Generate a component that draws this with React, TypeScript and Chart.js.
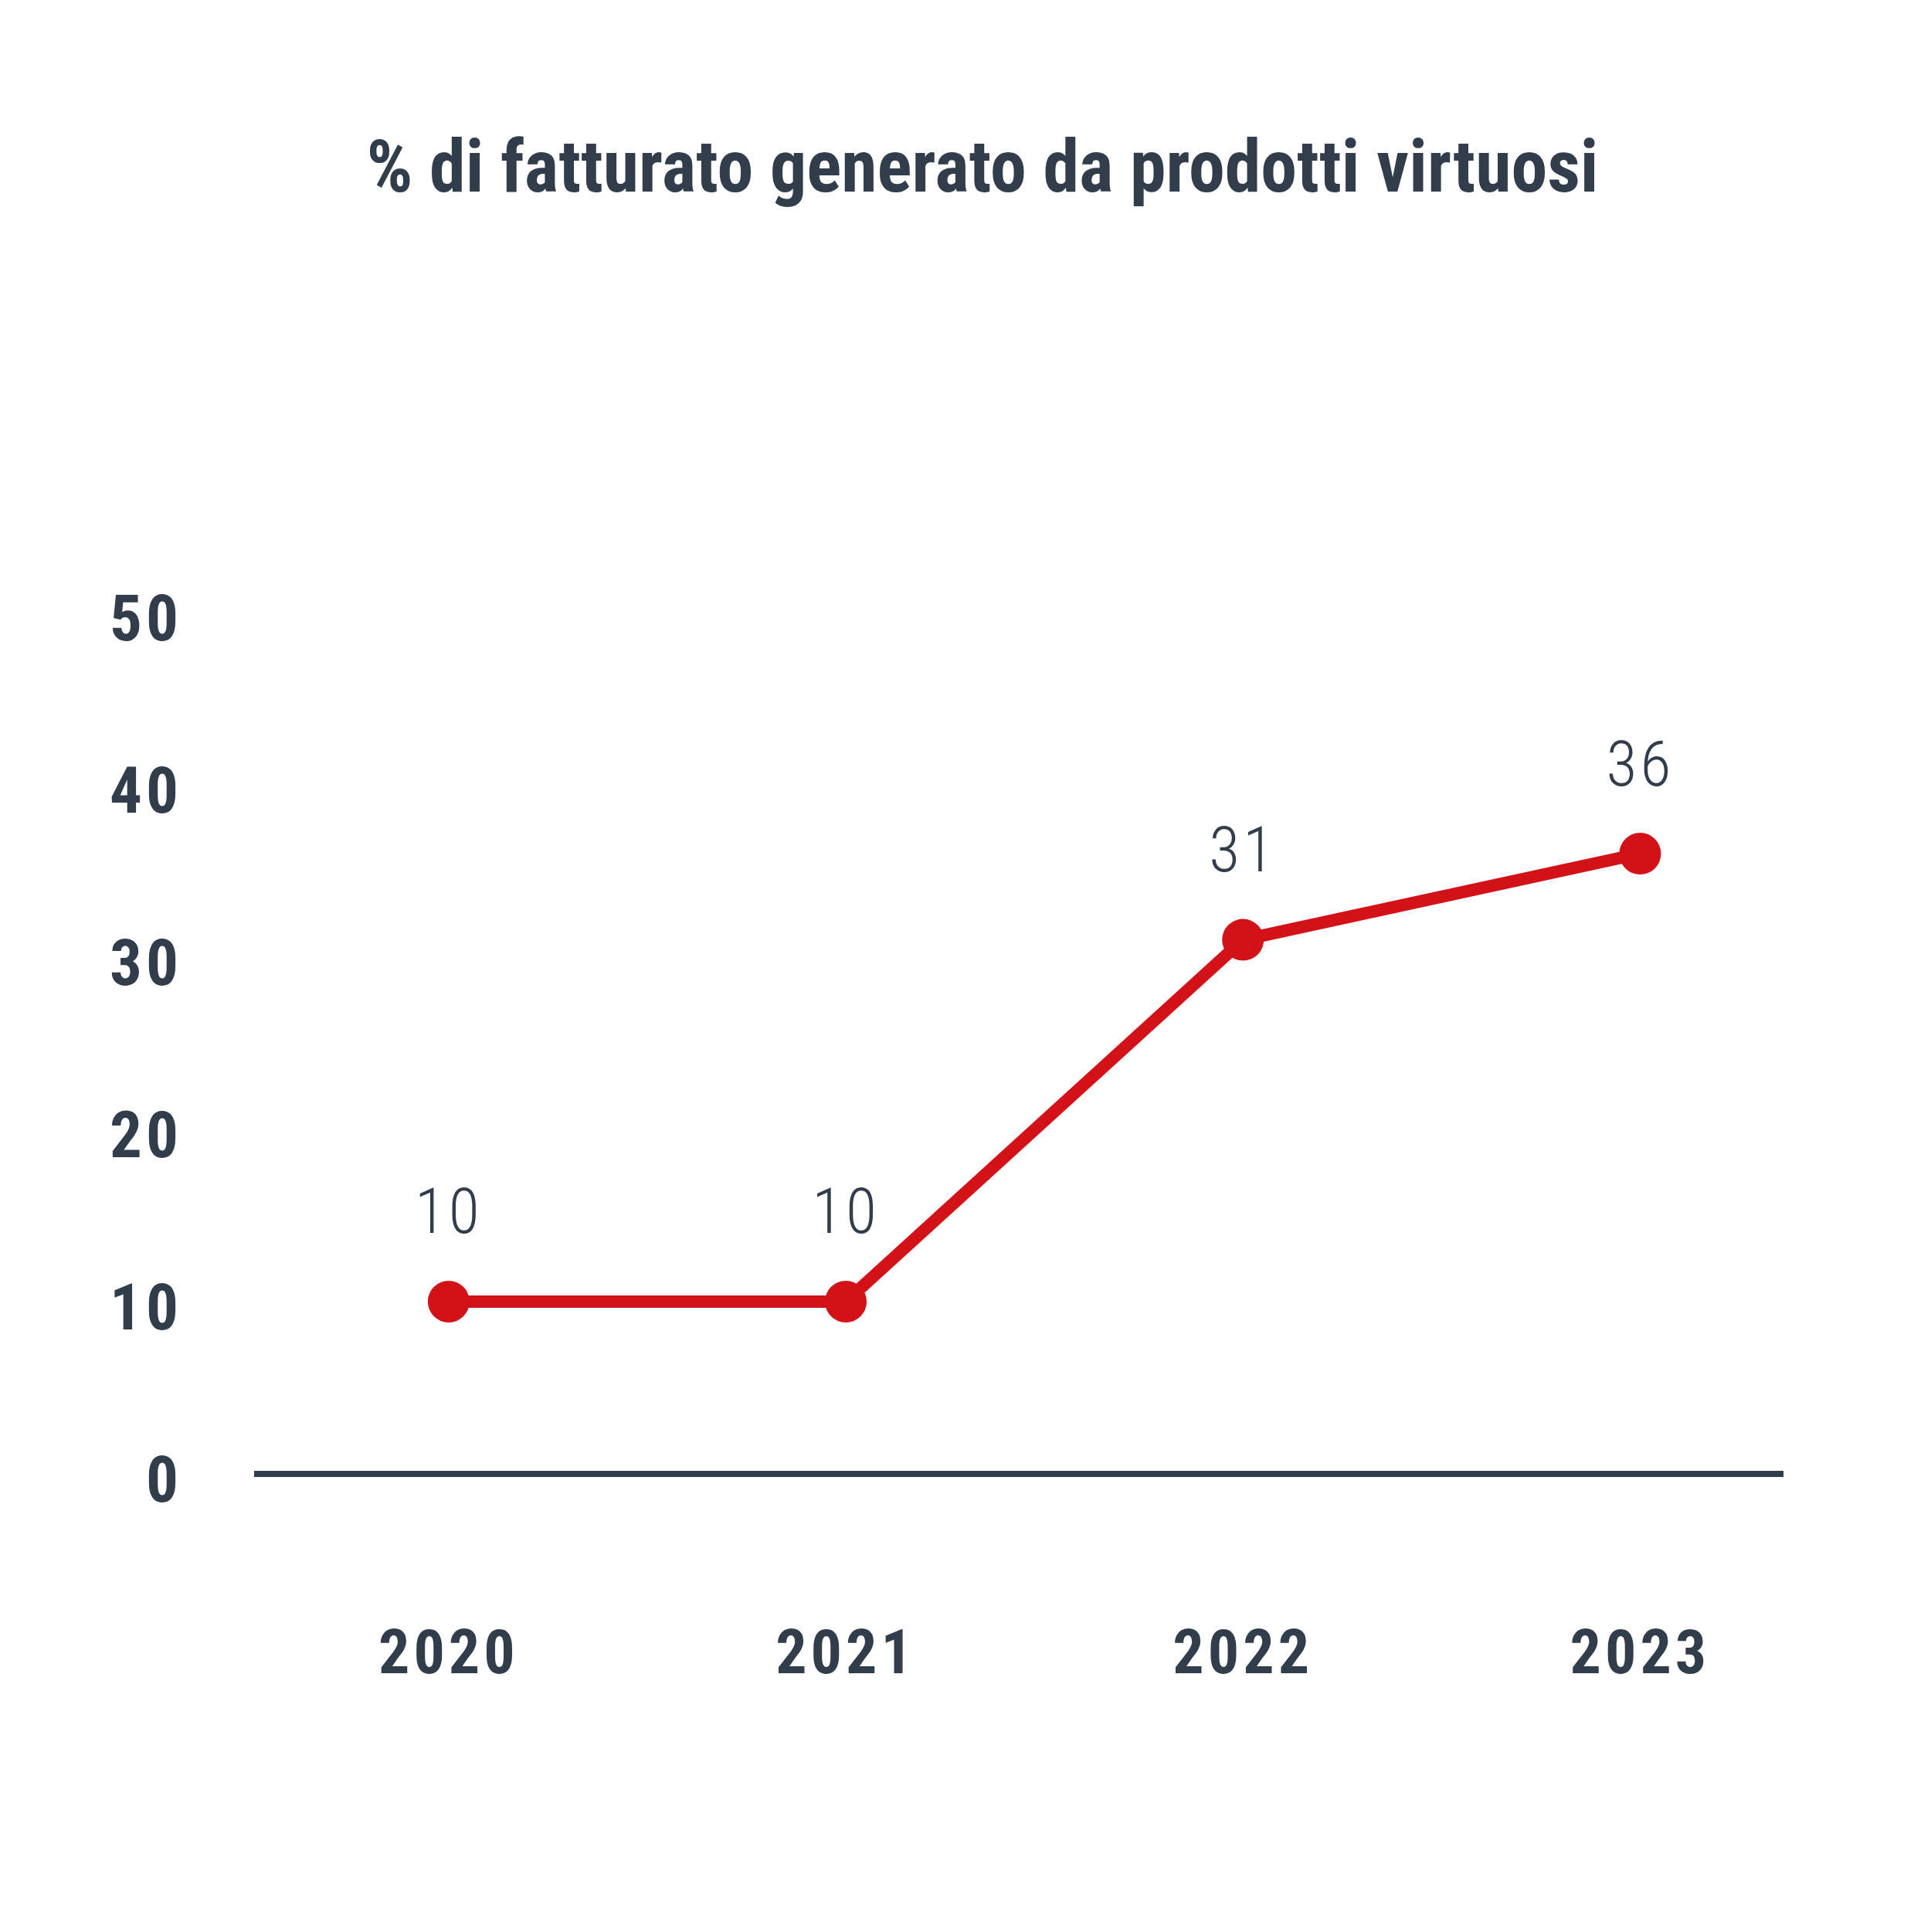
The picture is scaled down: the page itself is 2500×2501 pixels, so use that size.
import React, { useEffect, useRef } from "react";
import { Chart, registerables } from "chart.js";

Chart.register(...registerables);

// ---- data ----
const TITLE = "% di fatturato generato da prodotti virtuosi";
const YEARS = [2020, 2021, 2022, 2023];
const VALUES = [10, 10, 31, 36];
const Y_MIN = 0;
const Y_MAX = 50;
const Y_STEP = 10;
const X_MIN = 2019.518;
const X_MAX = 2023.359;

// ---- style ----
const TEXT = "#323d4b";
const RED = "#d31118";
const FONT = "'Roboto Condensed', Roboto, sans-serif";
const TICK_SPACING = 5;
const LABEL_SPACING = 4;

const dataLabels = {
  id: "dataLabels",
  afterDatasetsDraw(chart: any) {
    const ctx = chart.ctx as CanvasRenderingContext2D & { letterSpacing: string };
    const meta = chart.getDatasetMeta(0);
    ctx.save();
    ctx.font = `300 82px ${FONT}`;
    ctx.letterSpacing = `${LABEL_SPACING}px`;
    ctx.fillStyle = TEXT;
    ctx.textAlign = "center";
    ctx.textBaseline = "middle";
    meta.data.forEach((pt: any, i: number) => {
      ctx.fillText(String(VALUES[i]), pt.x + LABEL_SPACING / 2 - 2, pt.y - 109);
    });
    ctx.restore();
    // tick labels are drawn after datasets (ticks.z = 1): give them letter spacing
    ctx.letterSpacing = `${TICK_SPACING}px`;
  },
  afterDraw(chart: any) {
    (chart.ctx as any).letterSpacing = "0px";
  },
};

export default function App() {
  const ref = useRef<HTMLCanvasElement>(null);
  useEffect(() => {
    const canvas = ref.current!;
    const chart = new Chart(canvas, {
      type: "line",
      data: {
        datasets: [
          {
            data: YEARS.map((y, i) => ({ x: y, y: VALUES[i] })),
            yAxisID: "y",
            borderColor: RED,
            backgroundColor: RED,
            borderWidth: 16,
            pointRadius: 27,
            pointHoverRadius: 27,
            pointBackgroundColor: RED,
            pointBorderWidth: 0,
            borderJoinStyle: "round",
            tension: 0,
            clip: false as any,
          },
        ],
      },
      options: {
        responsive: false,
        maintainAspectRatio: false,
        devicePixelRatio: 1,
        animation: false,
        events: [],
        layout: { padding: { left: 100, right: 56, top: 0, bottom: 0 } },
        plugins: {
          legend: { display: false },
          tooltip: { enabled: false },
          title: {
            display: true,
            text: TITLE,
            color: TEXT,
            font: { family: FONT, size: 94, weight: "bold", lineHeight: 1.2 },
            padding: { top: 168, bottom: 512 },
          },
        },
        scales: {
          x: {
            type: "linear",
            min: X_MIN,
            max: X_MAX,
            grid: { display: false, drawTicks: false },
            border: { display: true, color: TEXT, width: 8 },
            ticks: {
              stepSize: 1,
              includeBounds: false,
              autoSkip: false,
              maxRotation: 0,
              padding: 190,
              color: TEXT,
              font: { family: FONT, size: 80, weight: "bold", lineHeight: 1.2 },
              z: 1,
              callback: (v: any) => String(v),
            },
            afterFit: (s: any) => {
              s.height = 2501 - 1908;
            },
          },
          y: {
            type: "linear",
            position: "left",
            min: Y_MIN,
            max: Y_MAX,
            grid: { display: false, drawTicks: false },
            border: { display: false },
            ticks: {
              stepSize: Y_STEP,
              autoSkip: false,
              padding: 102 - TICK_SPACING,
              labelOffset: 15,
              color: TEXT,
              font: { family: FONT, size: 83, weight: "bold", lineHeight: 1.2 },
              z: 1,
            },
            afterFit: (s: any) => {
              s.width = 333 - 100;
            },
          },
          yRight: {
            type: "linear",
            position: "right",
            display: true,
            grid: { display: false, drawTicks: false },
            border: { display: false },
            ticks: { display: false },
            afterFit: (s: any) => {
              s.width = 2500 - 56 - 2308;
            },
          },
        },
      } as any,
      plugins: [dataLabels as any],
    });
    return () => chart.destroy();
  }, []);
  return (
    <div style={{ position: "absolute", left: 0, top: 0, width: 2500, height: 2501, background: "#fff" }}>
      <canvas ref={ref} width={2500} height={2501} style={{ display: "block", width: 2500, height: 2501 }} />
    </div>
  );
}
